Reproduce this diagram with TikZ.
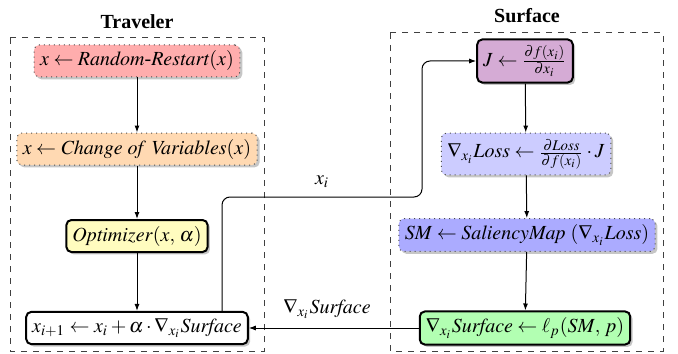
\documentclass[tikz,border=0pt]{standalone}
\usepackage{mathptmx}
\usepackage{fontspec}
\setmainfont{Liberation Serif}
\usetikzlibrary{shadows,arrows.meta,positioning}
\begin{document}
\begin{tikzpicture}[x=0.5pt,y=-0.5pt,
  box/.style={rounded corners=2.5pt, inner xsep=3pt, inner ysep=3pt, minimum height=15pt,
    drop shadow={shadow xshift=1.2pt, shadow yshift=-1.2pt, opacity=0.45}},
  dotbox/.style={box, draw=black!70, dotted, line width=0.5pt},
  thickbox/.style={box, draw=black, line width=1pt},
  frame/.style={draw=black!75, dashed, line width=0.5pt},
  title/.style={font=\bfseries},
  conn/.style={-{Latex[length=3.5pt,width=2.5pt]}, line width=0.5pt},
]
\useasboundingbox (0,0) rectangle (678,353);
\draw[frame] (10,38) rectangle (264,351);
\draw[frame] (390,33) rectangle (663,351);
\node[title] (t1) at (137,22) {Traveler};
\node[title] (t2) at (527,16) {Surface};

\node[dotbox, fill=red!32] (rr) at (137,61) {$x \leftarrow \mathit{Random\mbox{-}Restart}(x)$};
\node[dotbox, fill=orange!30] (cv) at (137,149) {$x \leftarrow \mathit{Change\ of\ Variables}(x)$};
\node[thickbox, fill=yellow!25] (opt) at (137,236) {$\mathit{Optimizer}(x,\,\alpha)$};
\node[thickbox, fill=white] (upd) at (137,328) {$x_{i+1} \leftarrow x_i + \alpha\cdot\nabla_{x_i}\mathit{Surface}$};

\node[thickbox, fill=violet!33] (J) at (525,61) {$J \leftarrow \frac{\partial f(x_i)}{\partial x_i}$};
\node[dotbox, fill=blue!20] (loss) at (526,154) {$\nabla_{x_i}\mathit{Loss} \leftarrow \frac{\partial \mathit{Loss}}{\partial f(x_i)}\cdot J$};
\node[dotbox, fill=blue!33] (sm) at (527,235) {$\mathit{SM} \leftarrow \mathit{SaliencyMap}\ (\nabla_{x_i}\mathit{Loss})$};
\node[thickbox, fill=green!30] (surf) at (525,328) {$\nabla_{x_i}\mathit{Surface} \leftarrow \ell_p(\mathit{SM},\,p)$};

\draw[conn] (rr) -- (cv);
\draw[conn] (cv) -- (opt);
\draw[conn] (opt) -- (upd);
\draw[conn] (J) -- (loss);
\draw[conn] (loss) -- (sm);
\draw[conn] (sm) -- (surf);

\coordinate (xa) at (222,0);
\coordinate (turn) at (422,197);
\draw[conn, rounded corners=4pt] (upd.north -| xa) |- (turn) |- (J.west);
\node (lxi) at (322,182) {$x_i$};

\draw[conn] (surf) -- (upd);
\node (lsurf) at (327,309) {$\nabla_{x_i}\mathit{Surface}$};
\end{tikzpicture}
\end{document}
